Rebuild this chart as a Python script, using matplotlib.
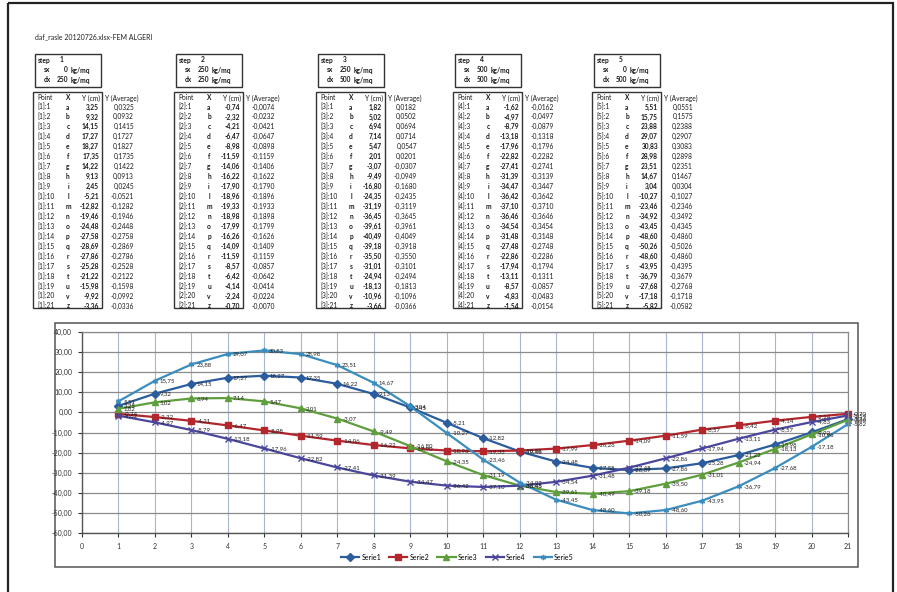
import numpy as np
import matplotlib.pyplot as plt
from matplotlib.patches import Rectangle

plt.rcParams['font.family'] = ['Lato', 'DejaVu Sans']

titolo = 'daf_rasle 20120726.xlsx-FEM ALGERI'
passi = [1, 2, 3, 4, 5]
sx = [0, 250, 250, 500, 0]
dx = [250, 250, 500, 500, 500]
lettere = ['a', 'b', 'c', 'd', 'e', 'f', 'g', 'h', 'i', 'l', 'm',
           'n', 'o', 'p', 'q', 'r', 's', 't', 'u', 'v', 'z']
punti = list(range(1, 22))

y1 = [3.25, 9.32, 14.15, 17.27, 18.27, 17.35, 14.22, 9.13, 2.45, -5.21, -12.82,
      -19.46, -24.48, -27.58, -28.69, -27.86, -25.28, -21.22, -15.98, -9.92, -3.36]
y2 = [-0.74, -2.32, -4.21, -6.47, -8.98, -11.59, -14.06, -16.22, -17.90, -18.96, -19.33,
      -18.98, -17.99, -16.26, -14.09, -11.59, -8.57, -6.42, -4.14, -2.24, -0.70]
y3 = [1.82, 5.02, 6.94, 7.14, 5.47, 2.01, -3.07, -9.49, -16.80, -24.35, -31.19,
      -36.45, -39.61, -40.49, -39.18, -35.50, -31.01, -24.94, -18.13, -10.96, -3.66]
y4 = [-1.62, -4.97, -8.79, -13.18, -17.96, -22.82, -27.41, -31.39, -34.47, -36.42, -37.10,
      -36.46, -34.54, -31.48, -27.48, -22.86, -17.94, -13.11, -8.57, -4.83, -1.54]
y5 = [5.51, 15.75, 23.88, 29.07, 30.83, 28.98, 23.51, 14.67, 3.04, -10.27, -23.46,
      -34.92, -43.45, -48.60, -50.26, -48.60, -43.95, -36.79, -27.68, -17.18, -5.82]

m1 = [0.0325, 0.0932, 0.1415, 0.1727, 0.1827, 0.1735, 0.1422, 0.0913, 0.0245, -0.0521, -0.1282,
      -0.1946, -0.2448, -0.2758, -0.2869, -0.2786, -0.2528, -0.2122, -0.1598, -0.0992, -0.0336]
m2 = [-0.0074, -0.0232, -0.0421, -0.0647, -0.0898, -0.1159, -0.1406, -0.1622, -0.1790, -0.1896, -0.1933,
      -0.1898, -0.1799, -0.1626, -0.1409, -0.1159, -0.0857, -0.0642, -0.0414, -0.0224, -0.0070]
m3 = [0.0182, 0.0502, 0.0694, 0.0714, 0.0547, 0.0201, -0.0307, -0.0949, -0.1680, -0.2435, -0.3119,
      -0.3645, -0.3961, -0.4049, -0.3918, -0.3550, -0.3101, -0.2494, -0.1813, -0.1096, -0.0366]
m4 = [-0.0162, -0.0497, -0.0879, -0.1318, -0.1796, -0.2282, -0.2741, -0.3139, -0.3447, -0.3642, -0.3710,
      -0.3646, -0.3454, -0.3148, -0.2748, -0.2286, -0.1794, -0.1311, -0.0857, -0.0483, -0.0154]
m5 = [0.0551, 0.1575, 0.2388, 0.2907, 0.3083, 0.2898, 0.2351, 0.1467, 0.0304, -0.1027, -0.2346,
      -0.3492, -0.4345, -0.4860, -0.5026, -0.4860, -0.4395, -0.3679, -0.2768, -0.1718, -0.0582]

serie_nomi = ['Serie1', 'Serie2', 'Serie3', 'Serie4', 'Serie5']
colori = ['#2b5c9e', '#b3262c', '#5f9e3c', '#4a469c', '#3a8dbe']
marcatori = ['D', 's', '^', 'x', (6, 2, 0)]


def virgola(v, dec=2):
    return f'{v:.{dec}f}'.replace('.', ',')


fig = plt.figure(figsize=(8.97, 5.92), dpi=100)
pagina = fig.add_axes([0, 0, 1, 1])
pagina.set_xlim(0, 897)
pagina.set_ylim(592, 0)
pagina.axis('off')

# bordo del foglio
pagina.add_patch(Rectangle((8, 3), 885, 600, fill=False, ec='#222222', lw=1.6))
pagina.text(35, 37, titolo, fontsize=5, va='center', color='#222222')

fs = 4.8
col_testo = '#1a1a1a'
sinistre = [33, 174, 316, 453, 592]
tutte_y = [y1, y2, y3, y4, y5]
tutte_m = [m1, m2, m3, m4, m5]

for t, L in enumerate(sinistre):
    # riquadro step
    pagina.add_patch(Rectangle((L + 2, 54), 66, 33, fill=False, ec='#333333', lw=1))
    pagina.text(L + 5, 60, 'step', fontsize=fs, fontweight='bold', va='center', color=col_testo)
    pagina.text(L + 27, 60, str(passi[t]), fontsize=fs, fontweight='bold', va='center', color=col_testo)
    for k, (nome, val) in enumerate([('sx', sx[t]), ('dx', dx[t])]):
        yy = 70 + k * 10
        pagina.text(L + 14, yy, nome, fontsize=fs, fontweight='bold', va='center', ha='center', color=col_testo)
        pagina.text(L + 35, yy, str(val), fontsize=fs, fontweight='bold', va='center', ha='right', color=col_testo)
        pagina.text(L + 38, yy, 'kg/mq', fontsize=fs, fontweight='bold', va='center', color=col_testo)

    # tabella dei punti
    pagina.add_patch(Rectangle((L, 92), 69, 216, fill=False, ec='#333333', lw=1))
    pagina.text(L + 4, 98, 'Point', fontsize=fs, va='center', color=col_testo)
    pagina.text(L + 35, 98, 'X', fontsize=fs, fontweight='bold', va='center', ha='center', color=col_testo)
    pagina.text(L + 67, 98, 'Y (cm)', fontsize=fs, va='center', ha='right', color=col_testo)
    pagina.text(L + 72, 98, 'Y (Average)', fontsize=fs, va='center', color=col_testo)
    for i, p in enumerate(punti):
        yy = 107 + i * 9.95
        pagina.text(L + 4, yy, f'[{passi[t]}]:{p}', fontsize=fs, va='center', color=col_testo)
        pagina.text(L + 35, yy, lettere[i], fontsize=fs, fontweight='bold', va='center', ha='center', color=col_testo)
        pagina.text(L + 66, yy, virgola(tutte_y[t][i]), fontsize=fs, fontweight='bold',
                    va='center', ha='right', color=col_testo)
        pagina.text(L + 101, yy, virgola(tutte_m[t][i], 4), fontsize=fs, va='center', ha='right', color=col_testo)

# riquadro del grafico
pagina.add_patch(Rectangle((55, 323), 803, 244, fill=True, fc='white', ec='#555555', lw=1.1))

ax = fig.add_axes([82 / 897, 1 - 533 / 592, (848 - 82) / 897, (533 - 332) / 592])
ax.set_facecolor('white')
ax.set_xlim(0, 21)
ax.set_ylim(-60, 40)
ax.set_xticks(range(0, 22))
ax.set_yticks(range(-60, 41, 10))
ax.set_yticklabels([virgola(v) for v in range(-60, 41, 10)])
ax.tick_params(labelsize=5, colors='#333333', length=3, width=0.8, pad=4)
ax.grid(axis='y', color='#8a8a8a', lw=0.9)
ax.grid(axis='x', color='#a9b6cf', lw=0.8)
ax.set_axisbelow(True)
for lato in ['top', 'right']:
    ax.spines[lato].set_color('#8a8a8a')
    ax.spines[lato].set_linewidth(0.9)
for lato in ['left', 'bottom']:
    ax.spines[lato].set_color('#555555')
    ax.spines[lato].set_linewidth(1.0)

for ys, nome, c, mk in zip(tutte_y, serie_nomi, colori, marcatori):
    ax.plot(punti, ys, color=c, lw=1.6, marker=mk, ms=3.8, mew=1.0, label=nome, clip_on=False)
    for x, v in zip(punti, ys):
        ax.annotate(virgola(v), (x, v), xytext=(3.5, 0), textcoords='offset points',
                    fontsize=4.3, va='center', ha='left', color='#222222')

ax.legend(loc='center', bbox_to_anchor=(0.49, -0.12), ncol=5, frameon=False,
          fontsize=5, handlelength=2.6, columnspacing=1.2, handletextpad=0.3)

fig.savefig('out.png', dpi=100)
